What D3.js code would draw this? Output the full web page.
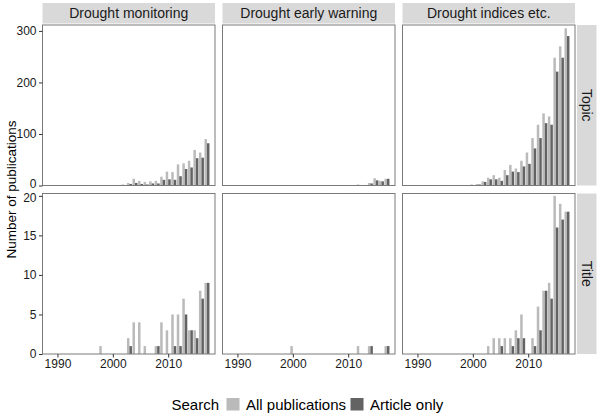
<!DOCTYPE html>
<html><head><meta charset="utf-8">
<script src="https://cdn.jsdelivr.net/npm/d3@7"></script>
<style>
html,body{margin:0;padding:0;background:#fff;}
svg{display:block;font-family:"Liberation Sans",Arial,sans-serif;}
</style></head>
<body>
<svg id="chart" width="600" height="417"></svg>
<script>
// ---- data ----
const years = [1990,1991,1992,1993,1994,1995,1996,1997,1998,1999,2000,2001,2002,2003,2004,2005,2006,2007,2008,2009,2010,2011,2012,2013,2014,2015,2016,2017];
const columns = ["Drought monitoring", "Drought early warning", "Drought indices etc."];
const rows = ["Topic", "Title"];
const seriesNames = ["All publications", "Article only"];
const legendTitle = "Search";
const yAxisTitle = "Number of publications";
const xTicks = [1990, 2000, 2010];
const yTicksTopic = [0, 100, 200, 300];
const yTicksTitle = [0, 5, 10, 15, 20];

const topicMonitoringAll   = [0,0,0,0,0,0,0,1,1,0,1,1,2,5,13,9,7,8,9,17,27,26,41,43,48,69,64,90];
const topicMonitoringArt   = [0,0,0,0,0,0,0,0,0,0,0,1,0,3,5,3,2,4,4,11,12,11,18,32,35,53,54,82];
const topicWarningAll      = [0,0,0,0,0,0,0,0,0,0,1,0,0,0,0,0,1,0,0,0,1,0,2,1,5,14,9,13];
const topicWarningArt      = [0,0,0,0,0,0,0,0,0,0,0,0,0,0,0,0,0,0,0,0,0,0,0,0,4,10,8,13];
const topicIndicesAll      = [0,1,0,1,0,1,0,1,0,0,2,3,8,15,20,15,30,40,33,48,64,92,118,140,134,248,270,305];
const topicIndicesArt      = [0,0,0,0,0,1,0,1,0,0,1,2,7,12,12,9,20,27,26,37,42,72,92,121,118,221,248,290];
const titleMonitoringAll   = [0,0,0,0,0,0,0,0,1,0,0,0,0,2,4,4,1,0,1,4,3,5,5,7,3,3,8,9];
const titleMonitoringArt   = [0,0,0,0,0,0,0,0,0,0,0,0,0,1,0,0,0,0,1,0,0,1,1,5,3,2,7,9];
const titleWarningAll      = [0,0,0,0,0,0,0,0,0,0,1,0,0,0,0,0,0,0,0,0,0,0,1,0,1,0,0,1];
const titleWarningArt      = [0,0,0,0,0,0,0,0,0,0,0,0,0,0,0,0,0,0,0,0,0,0,0,0,1,0,0,1];
const titleIndicesAll      = [0,0,0,0,0,0,0,0,0,0,0,0,0,1,2,2,2,2,3,5,0,2,6,8,9,20,19,18];
const titleIndicesArt      = [0,0,0,0,0,0,0,0,0,0,0,0,0,0,0,1,0,1,2,2,0,1,3,8,7,16,17,18];

const panelData = [
  [[topicMonitoringAll, topicMonitoringArt],[topicWarningAll, topicWarningArt],[topicIndicesAll, topicIndicesArt]],
  [[titleMonitoringAll, titleMonitoringArt],[titleWarningAll, titleWarningArt],[titleIndicesAll, titleIndicesArt]]
];
const yMax = [311.5, 20.3];
const yTicks = [yTicksTopic, yTicksTitle];

// ---- layout ----
const colors = ["#bababa", "#636363"];
const panelX = [42.5, 222.5, 402.5];
const panelW = 172.5;
const panelY = [25, 193.5];
const panelH = 160.5;
const stripTop = 3, stripH = 20.5;
const stripRX = 577, stripRW = 19.5;

const svg = d3.select("#chart");

const x = d3.scaleLinear().domain([1987.3, 2018.45]).range([0, panelW]);
const barW = 0.45;

rows.forEach((rowName, r) => {
  const y = d3.scaleLinear().domain([0, yMax[r]]).range([panelH, 0]);
  columns.forEach((colName, c) => {
    const g = svg.append("g").attr("transform", `translate(${panelX[c]},${panelY[r]})`);
    g.append("rect").attr("width", panelW).attr("height", panelH).attr("fill", "#fff");
    panelData[r][c].forEach((vals, s) => {
      const recs = years.map((yr, i) => ({yr, v: vals[i]})).filter(d => d.v > 0);
      g.selectAll(null).data(recs).enter().append("rect")
        .attr("x", d => x(d.yr - barW + s * barW))
        .attr("width", x(barW) - x(0))
        .attr("y", d => y(d.v))
        .attr("height", d => y(0) - y(d.v))
        .attr("fill", colors[s]);
    });
    g.append("rect").attr("width", panelW).attr("height", panelH)
      .attr("fill", "none").attr("stroke", "#7a7a7a").attr("stroke-width", 1);

    if (c === 0) {
      const ay = g.append("g").call(d3.axisLeft(y).tickValues(yTicks[r]).tickSize(3.5).tickPadding(2.5));
      ay.select(".domain").remove();
      ay.selectAll("line").attr("stroke", "#333");
      ay.selectAll("text").attr("font-size", 12).attr("fill", "#1a1a1a").attr("font-family", "Liberation Sans, Arial, sans-serif");
      // small nudge so the adjacent row-end labels ("0" above, "20" below) do not collide
      const lastIdx = yTicks[r].length - 1;
      ay.selectAll(".tick text").attr("dy", (d, i) => {
        if (r === 0 && i === 0) return "0.2em";
        if (r === 1 && i === lastIdx) return "0.44em";
        return "0.32em";
      });
    }
    if (r === rows.length - 1) {
      const ax = g.append("g").attr("transform", `translate(0,${panelH})`)
        .call(d3.axisBottom(x).tickValues(xTicks).tickFormat(d3.format("d")).tickSize(3.5).tickPadding(2));
      ax.select(".domain").remove();
      ax.selectAll("line").attr("stroke", "#333");
      ax.selectAll("text").attr("font-size", 12).attr("fill", "#1a1a1a").attr("font-family", "Liberation Sans, Arial, sans-serif");
    }
    if (r === 0) {
      svg.append("rect").attr("x", panelX[c]).attr("y", stripTop).attr("width", panelW).attr("height", stripH).attr("fill", "#d9d9d9");
      svg.append("text").attr("x", panelX[c] + panelW / 2).attr("y", stripTop + stripH / 2)
        .attr("text-anchor", "middle").attr("dominant-baseline", "central")
        .attr("font-size", 14).attr("fill", "#1a1a1a").text(colName);
    }
  });
  svg.append("rect").attr("x", stripRX).attr("y", panelY[r]).attr("width", stripRW).attr("height", panelH).attr("fill", "#d9d9d9");
  svg.append("text")
    .attr("transform", `translate(${stripRX + stripRW / 2},${panelY[r] + panelH / 2}) rotate(90)`)
    .attr("text-anchor", "middle").attr("dominant-baseline", "central")
    .attr("font-size", 14).attr("fill", "#1a1a1a").text(rowName);
});

// y axis title
svg.append("text")
  .attr("transform", `translate(11,${(panelY[0] + panelY[1] + panelH) / 2}) rotate(-90)`)
  .attr("text-anchor", "middle").attr("dominant-baseline", "central")
  .attr("font-size", 13.5).attr("fill", "#000").text(yAxisTitle);

// legend
const lg = svg.append("g");
lg.append("text").attr("x", 171.5).attr("y", 410).attr("font-size", 15).attr("fill", "#000").text(legendTitle);
const legendX = [226.5, 350.5];
seriesNames.forEach((name, i) => {
  lg.append("rect").attr("x", legendX[i]).attr("y", 398).attr("width", 13).attr("height", 12.5).attr("fill", colors[i]);
  lg.append("text").attr("x", legendX[i] + 19.5).attr("y", 410).attr("font-size", 15).attr("fill", "#000").text(name);
});
</script>
</body></html>
